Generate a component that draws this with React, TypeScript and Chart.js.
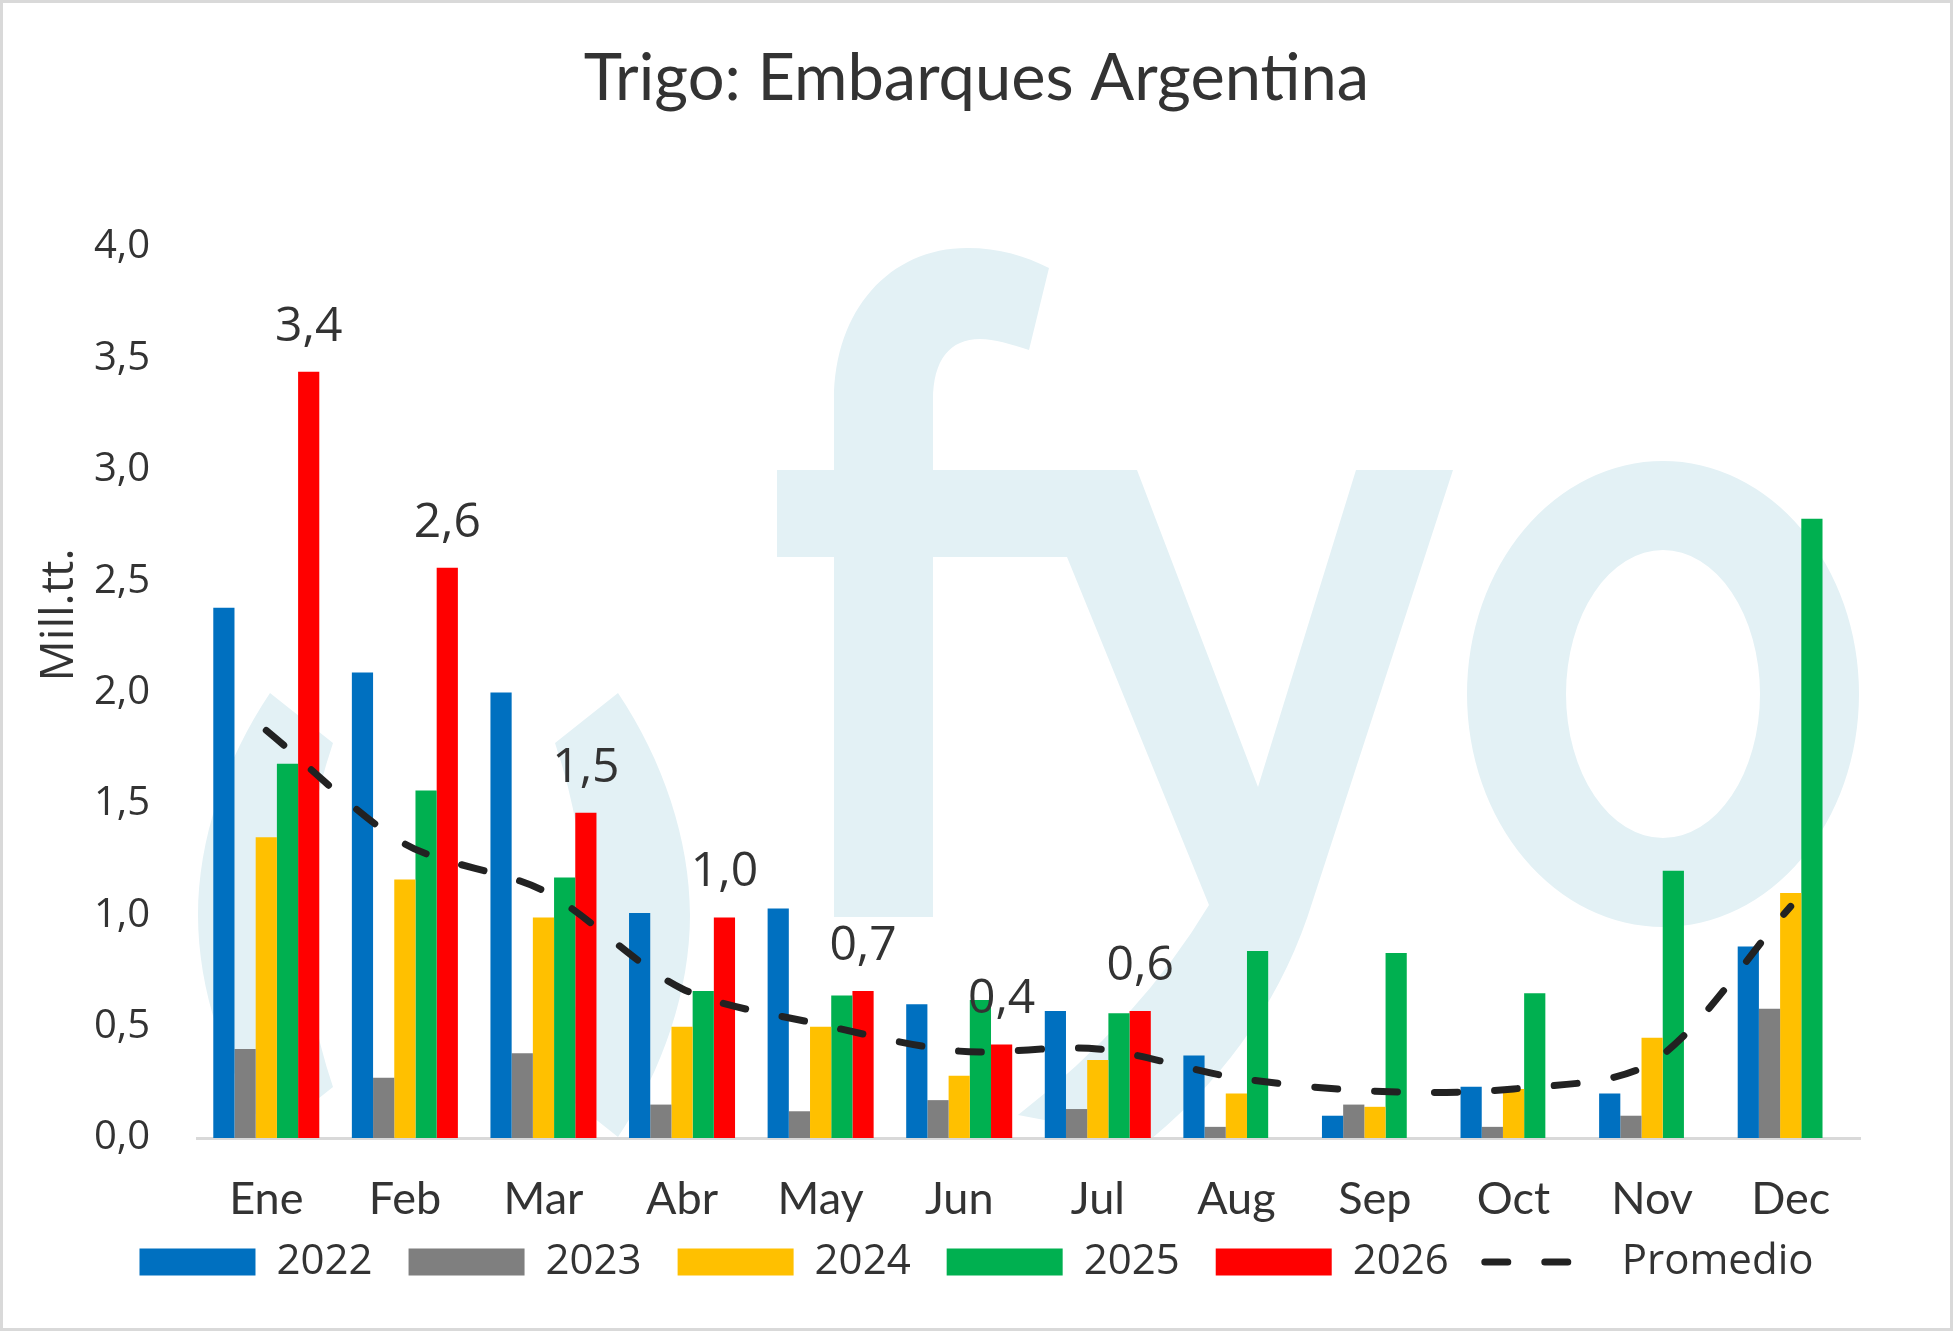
import { useEffect, useRef } from "react"
import { Chart, registerables } from "chart.js"

Chart.register(...registerables)

// --- data ---
const months = ["Ene", "Feb", "Mar", "Abr", "May", "Jun", "Jul", "Aug", "Sep", "Oct", "Nov", "Dec"]
const years = ["2022", "2023", "2024", "2025", "2026"]
const v2022 = [2.38, 2.09, 2.0, 1.01, 1.03, 0.6, 0.57, 0.37, 0.1, 0.23, 0.2, 0.86]
const v2023 = [0.4, 0.27, 0.38, 0.15, 0.12, 0.17, 0.13, 0.05, 0.15, 0.05, 0.1, 0.58]
const v2024 = [1.35, 1.16, 0.99, 0.5, 0.5, 0.28, 0.35, 0.2, 0.14, 0.22, 0.45, 1.1]
const v2025 = [1.68, 1.56, 1.17, 0.66, 0.64, 0.62, 0.56, 0.84, 0.83, 0.65, 1.2, 2.78]
const v2026 = [3.44, 2.56, 1.46, 0.99, 0.66, 0.42, 0.57, null, null, null, null, null]
const promedio = [1.83, 1.32, 1.11, 0.67, 0.51, 0.39, 0.4, 0.27, 0.21, 0.22, 0.34, 1.04]
const yTicks = [0, 0.5, 1, 1.5, 2, 2.5, 3, 3.5, 4]

const yearValues = [v2022, v2023, v2024, v2025, v2026]
const yearColors = ["#0070C0", "#7F7F7F", "#FFC000", "#00B050", "#FF0000"]
const lineColor = "#222222"
const textColor = "#333333"
const markColor = "#e3f1f5"

const family = "'Open Sans'"
const lato = "Lato, 'Open Sans'"

const fmt = (v: number) => v.toFixed(1).replace(".", ",")

// light "fyo" logo behind the plot, laid out in reference pixels
const watermark = {
  id: "watermark",
  beforeDraw(chart: Chart) {
    const { ctx, chartArea: ca } = chart
    const sx = (x: number) => ca.left + ((x - 197) * ca.width) / 1663
    const sy = (y: number) => ca.top + ((y - 247) * ca.height) / 891
    ctx.save()
    ctx.beginPath()
    ctx.rect(ca.left, ca.top, ca.width, ca.height)
    ctx.clip()
    ctx.fillStyle = markColor

    // two crescents on the left
    const crescent = (m: (x: number) => number) => {
      ctx.beginPath()
      ctx.moveTo(sx(m(270)), sy(693))
      ctx.bezierCurveTo(sx(m(225)), sy(760), sx(m(198)), sy(840), sx(m(198)), sy(915))
      ctx.bezierCurveTo(sx(m(198)), sy(990), sx(m(225)), sy(1070), sx(m(270)), sy(1137))
      ctx.lineTo(sx(m(333)), sy(1087))
      ctx.quadraticCurveTo(sx(m(275)), sy(915), sx(m(333)), sy(743))
      ctx.closePath()
      ctx.fill()
    }
    crescent((x) => x)
    crescent((x) => 888 - x)

    // f
    ctx.beginPath()
    ctx.moveTo(sx(834), sy(917))
    ctx.lineTo(sx(834), sy(400))
    ctx.bezierCurveTo(sx(834), sy(310), sx(890), sy(248), sx(967), sy(248))
    ctx.bezierCurveTo(sx(1000), sy(248), sx(1025), sy(256), sx(1049), sy(268))
    ctx.lineTo(sx(1029), sy(350))
    ctx.bezierCurveTo(sx(1010), sy(344), sx(995), sy(339), sx(980), sy(339))
    ctx.bezierCurveTo(sx(950), sy(339), sx(933), sy(360), sx(933), sy(400))
    ctx.lineTo(sx(933), sy(917))
    ctx.closePath()
    ctx.fill()
    ctx.fillRect(sx(777), sy(470), sx(1137) - sx(777), sy(557) - sy(470))

    // y
    ctx.beginPath()
    ctx.moveTo(sx(1067), sy(470))
    ctx.lineTo(sx(1137), sy(470))
    ctx.lineTo(sx(1258), sy(787))
    ctx.lineTo(sx(1356), sy(470))
    ctx.lineTo(sx(1453), sy(470))
    ctx.lineTo(sx(1313), sy(900))
    ctx.quadraticCurveTo(sx(1270), sy(1040), sx(1150), sy(1140))
    ctx.lineTo(sx(1018), sy(1115))
    ctx.quadraticCurveTo(sx(1140), sy(1020), sx(1209), sy(905))
    ctx.lineTo(sx(1067), sy(557))
    ctx.closePath()
    ctx.fill()

    // o
    ctx.beginPath()
    ctx.ellipse(sx(1663), sy(694), sx(1859) - sx(1663), sy(927) - sy(694), 0, 0, Math.PI * 2)
    ctx.ellipse(sx(1663), sy(694), sx(1760) - sx(1663), sy(838) - sy(694), 0, 0, Math.PI * 2)
    ctx.fill("evenodd")
    ctx.restore()
  },
}

// value labels over the 2026 bars + rotated y axis caption
const extras = {
  id: "extras",
  afterDatasetsDraw(chart: Chart) {
    const { ctx, chartArea: ca } = chart
    const meta = chart.getDatasetMeta(4)
    ctx.save()
    ctx.fillStyle = textColor
    ctx.font = `400 48px ${family}`
    ctx.textAlign = "center"
    ctx.textBaseline = "alphabetic"
    meta.data.forEach((bar, i) => {
      const v = v2026[i]
      if (v == null) return
      ctx.fillText(fmt(v), bar.x, bar.y - 48 + 17)
    })
    ctx.translate(57, ca.top + ((615 - 247) * ca.height) / 891)
    ctx.rotate(-Math.PI / 2)
    ctx.font = `400 46px ${family}`
    ctx.textBaseline = "middle"
    ctx.fillText("Mill.tt.", 0, 0)
    ctx.restore()
  },
}

export default function App() {
  const chartRef = useRef<HTMLCanvasElement>(null)
  const chartInstance = useRef<Chart | null>(null)

  useEffect(() => {
    if (!chartRef.current) return
    if (chartInstance.current) chartInstance.current.destroy()
    const ctx = chartRef.current.getContext("2d")
    if (!ctx) return

    const barSets = years.map((y, i) => ({
      type: "bar" as const,
      label: y,
      data: yearValues[i],
      backgroundColor: yearColors[i],
      borderWidth: 0,
      barPercentage: 1,
      categoryPercentage: 0.765,
      order: 1,
    }))

    chartInstance.current = new Chart(ctx, {
      type: "bar",
      data: {
        labels: months,
        datasets: [
          ...barSets,
          {
            type: "line" as const,
            label: "Promedio",
            data: promedio,
            borderColor: lineColor,
            backgroundColor: lineColor,
            borderWidth: 7,
            borderDash: [23, 37],
            borderCapStyle: "round",
            pointRadius: 0,
            pointStyle: "line",
            tension: 0.3,
            order: -1,
          },
        ],
      } as any,
      options: {
        animation: false,
        responsive: true,
        maintainAspectRatio: false,
        layout: { padding: { left: 0, right: 0, top: 0, bottom: 35 } },
        plugins: {
          title: {
            display: true,
            text: "Trigo: Embarques Argentina",
            color: textColor,
            font: { family: lato, size: 65, weight: "400" },
            padding: { top: 37, bottom: 129 },
          },
          legend: {
            position: "bottom",
            labels: {
              usePointStyle: true,
              pointStyleWidth: 116,
              boxHeight: 27,
              padding: 36,
              color: textColor,
              font: { family, size: 42 },
              generateLabels: (c: Chart) => {
                const items = Chart.defaults.plugins.legend.labels.generateLabels(c)
                return items
                  .map((it) => {
                    const ds: any = c.data.datasets[it.datasetIndex as number]
                    if (ds.type === "line") {
                      return { ...it, pointStyle: "line", lineWidth: 7, strokeStyle: lineColor, lineDash: [23, 37], lineCap: "round" }
                    }
                    return { ...it, pointStyle: "rect", lineWidth: 0 }
                  })
                  .sort((a, b) => (a.datasetIndex as number) - (b.datasetIndex as number)) as any
              },
            },
          },
          tooltip: { enabled: false },
        },
        scales: {
          x: {
            afterFit: (s: any) => {
              s.height = 67
            },
            grid: { display: false, drawTicks: false },
            border: { display: true, color: "#d9d9d9", width: 3 },
            ticks: {
              color: textColor,
              // mirrored labels are not clipped to the axis box; negative padding puts them below the axis
              mirror: true,
              padding: -63.3,
              font: { family: lato, size: 45, lineHeight: 0.1 },
            },
          },
          y: {
            min: 0,
            max: 4,
            afterFit: (s: any) => {
              s.width = 194
            },
            afterBuildTicks: (s: any) => {
              s.ticks = yTicks.map((v) => ({ value: v }))
            },
            grid: { display: false, drawTicks: false },
            border: { display: false },
            ticks: {
              color: textColor,
              padding: 47,
              font: { family, size: 40 },
              callback: (v: any) => fmt(Number(v)),
            },
          },
          yr: {
            position: "right",
            display: true,
            afterFit: (s: any) => {
              s.width = 90
            },
            grid: { display: false, drawTicks: false },
            border: { display: false },
            ticks: { display: false },
          },
        },
      },
      plugins: [watermark, extras],
    })

    return () => {
      if (chartInstance.current) {
        chartInstance.current.destroy()
        chartInstance.current = null
      }
    }
  }, [])

  return (
    <div
      style={{
        position: "fixed",
        left: 0,
        top: 0,
        width: 1953,
        height: 1331,
        boxSizing: "border-box",
        border: "3px solid #d9d9d9",
        background: "#ffffff",
      }}
    >
      <div style={{ position: "relative", width: 1947, height: 1325 }}>
        <canvas ref={chartRef} />
      </div>
    </div>
  )
}
